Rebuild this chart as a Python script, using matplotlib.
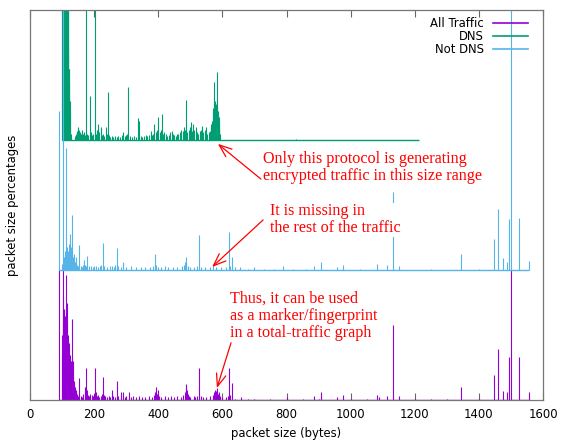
import matplotlib
matplotlib.use('Agg')
import matplotlib.pyplot as plt
from matplotlib.lines import Line2D

# packet size histograms (percentage, scaled to one band)
all_size = [90, 100, 101, 102, 103, 104, 105, 106, 107, 108, 109, 110, 111, 112, 113, 114, 115, 116, 117,
            118, 119, 120, 121, 122, 123, 124, 125, 126, 127, 128, 129, 130, 131, 132, 133, 134, 135, 136,
            137, 138, 139, 140, 142, 144, 146, 148, 150, 154, 158, 162, 166, 170, 172, 174, 176, 178, 180,
            184, 188, 192, 196, 200, 203, 205, 208, 212, 216, 220, 224, 227, 230, 235, 240, 245, 250, 256,
            260, 265, 271, 275, 283, 290, 295, 300, 309, 315, 320, 330, 340, 350, 360, 370, 380, 386, 390,
            393, 396, 398, 402, 410, 420, 430, 440, 450, 460, 470, 478, 482, 485, 487, 490, 493, 496, 500,
            510, 515, 520, 528, 532, 540, 550, 560, 570, 574, 577, 580, 583, 585, 588, 592, 600, 610, 618,
            621, 624, 629, 640, 657, 680, 700, 750, 800, 850, 887, 900, 907, 957, 975, 1000, 1050, 1083,
            1090, 1112, 1131, 1152, 1200, 1250, 1300, 1345, 1400, 1448, 1459, 1476, 1489, 1494, 1500, 1525,
            1557]
all_pct = [1.0, 0.35, 0.5, 0.8, 0.6, 1.0, 0.7, 0.45, 0.55, 0.4, 0.65, 0.5, 0.7, 0.96, 0.5, 0.4, 0.6, 0.75,
           0.35, 0.5, 0.45, 0.3, 0.35, 0.44, 0.25, 0.3, 0.35, 0.2, 0.28, 0.3, 0.25, 0.62, 0.3, 0.2, 0.3, 0.15,
           0.2, 0.12, 0.1, 0.15, 0.08, 0.1, 0.06, 0.08, 0.05, 0.04, 0.03, 0.17, 0.03, 0.02, 0.05, 0.06, 0.1,
           0.25, 0.05, 0.08, 0.04, 0.03, 0.05, 0.04, 0.03, 0.05, 0.25, 0.06, 0.03, 0.04, 0.02, 0.03, 0.05,
           0.18, 0.04, 0.03, 0.02, 0.03, 0.02, 0.08, 0.03, 0.02, 0.15, 0.03, 0.06, 0.06, 0.02, 0.03, 0.06,
           0.02, 0.03, 0.02, 0.03, 0.02, 0.02, 0.03, 0.02, 0.04, 0.06, 0.1, 0.05, 0.08, 0.03, 0.02, 0.03,
           0.02, 0.03, 0.02, 0.03, 0.02, 0.04, 0.06, 0.09, 0.12, 0.08, 0.05, 0.03, 0.02, 0.03, 0.02, 0.03,
           0.25, 0.03, 0.02, 0.02, 0.03, 0.04, 0.06, 0.08, 0.07, 0.09, 0.05, 0.06, 0.03, 0.02, 0.02, 0.03,
           0.25, 0.04, 0.13, 0.01, 0.02, 0.01, 0.01, 0.01, 0.02, 0.01, 0.03, 0.01, 0.06, 0.02, 0.04, 0.01,
           0.01, 0.04, 0.02, 0.03, 0.58, 0.03, 0.01, 0.01, 0.01, 0.1, 0.01, 0.19, 0.39, 0.07, 0.06, 0.33,
           1.0, 0.33, 0.06]
all_span = (90, 1557)

dns_size = [100, 101, 102, 103, 104, 105, 106, 107, 108, 109, 110, 111, 112, 113, 114, 115, 116, 117, 118,
            119, 120, 121, 122, 123, 124, 125, 126, 127, 128, 140, 143, 146, 148, 150, 152, 155, 158, 161,
            164, 167, 170, 174, 178, 182, 186, 190, 194, 198, 203, 207, 210, 213, 216, 220, 224, 228, 232,
            236, 239, 242, 246, 250, 255, 260, 265, 270, 275, 280, 286, 291, 296, 300, 304, 307, 312, 318,
            325, 330, 336, 340, 345, 350, 356, 362, 366, 370, 376, 380, 384, 388, 392, 396, 400, 404, 408,
            411, 415, 419, 423, 428, 433, 438, 442, 446, 450, 455, 460, 463, 468, 472, 476, 480, 484, 487,
            491, 495, 498, 501, 505, 509, 513, 517, 521, 525, 529, 533, 536, 540, 545, 549, 553, 557, 561,
            564, 566, 568, 570, 572, 574, 575, 576, 577, 578, 579, 580, 581, 582, 583, 584, 585, 586, 587,
            588, 589, 590, 591, 592, 829]
dns_pct = [1.2, 1.5, 1.3, 1.5, 1.1, 1.5, 1.4, 1.2, 1.5, 1.3, 1.5, 1.2, 1.5, 1.1, 1.4, 1.3, 1.2, 1.5, 1.1,
           1.05, 0.7, 0.55, 0.45, 0.55, 0.3, 0.21, 0.1, 0.05, 0.02, 0.03, 0.05, 0.07, 0.06, 0.1, 0.08, 0.06,
           0.05, 0.08, 0.05, 0.06, 0.04, 1.2, 0.05, 0.04, 0.34, 0.06, 0.04, 0.05, 1.2, 0.05, 0.08, 0.12, 0.06,
           0.1, 0.04, 0.05, 0.03, 0.1, 0.05, 0.37, 0.04, 0.02, 0.03, 0.02, 0.03, 0.02, 0.03, 0.02, 0.04,
           0.06, 0.03, 0.04, 0.05, 0.41, 0.03, 0.02, 0.03, 0.02, 0.17, 0.15, 0.03, 0.02, 0.03, 0.04, 0.03,
           0.04, 0.07, 0.04, 0.05, 0.12, 0.06, 0.08, 0.18, 0.06, 0.08, 0.2, 0.05, 0.06, 0.05, 0.03, 0.04,
           0.06, 0.07, 0.05, 0.04, 0.03, 0.05, 0.05, 0.06, 0.08, 0.07, 0.1, 0.08, 0.31, 0.06, 0.08, 0.1,
           0.14, 0.07, 0.12, 0.08, 0.1, 0.06, 0.05, 0.07, 0.08, 0.11, 0.06, 0.08, 0.1, 0.05, 0.06, 0.07,
           0.1, 0.12, 0.15, 0.22, 0.25, 0.2, 0.45, 0.28, 0.22, 0.3, 0.25, 0.2, 0.28, 0.52, 0.23, 0.25, 0.2,
           0.22, 0.15, 0.18, 0.12, 0.1, 0.08, 0.05, 0.01]
dns_span = (100, 1214)

notdns_size = [90, 100, 102, 104, 106, 108, 110, 112, 114, 116, 118, 120, 122, 124, 126, 128, 130, 132, 134,
               136, 138, 140, 142, 145, 148, 150, 154, 158, 162, 166, 169, 172, 176, 179, 184, 190, 196, 200,
               205, 212, 218, 222, 227, 232, 240, 248, 256, 262, 266, 271, 276, 285, 291, 300, 315, 330, 345,
               360, 375, 385, 391, 394, 400, 410, 420, 430, 445, 460, 475, 480, 483, 485, 488, 492, 500, 510,
               520, 527, 532, 545, 560, 570, 580, 595, 610, 621, 625, 631, 640, 655, 680, 700, 730, 760, 790,
               820, 860, 887, 907, 957, 975, 1030, 1083, 1112, 1131, 1152, 1250, 1345, 1400, 1448, 1459, 1476,
               1489, 1494, 1500, 1525, 1557]
notdns_pct = [1.22, 0.05, 0.08, 2.2, 0.1, 0.12, 0.15, 0.94, 0.12, 0.18, 0.1, 0.15, 0.2, 0.12, 0.28, 0.18,
              0.42, 0.15, 0.1, 0.12, 0.08, 0.06, 0.1, 0.05, 0.04, 0.03, 0.19, 0.03, 0.02, 0.04, 0.08, 0.04,
              0.03, 0.11, 0.03, 0.03, 0.02, 0.03, 0.03, 0.02, 0.03, 0.04, 0.21, 0.03, 0.02, 0.03, 0.03, 0.02,
              0.04, 0.17, 0.03, 0.02, 0.06, 0.02, 0.03, 0.02, 0.02, 0.02, 0.02, 0.03, 0.12, 0.04, 0.02, 0.02,
              0.03, 0.02, 0.02, 0.02, 0.03, 0.04, 0.06, 0.1, 0.05, 0.03, 0.02, 0.02, 0.03, 0.27, 0.02, 0.02,
              0.02, 0.03, 0.02, 0.02, 0.02, 0.29, 0.03, 0.1, 0.02, 0.02, 0.01, 0.02, 0.01, 0.01, 0.03, 0.01,
              0.01, 0.03, 0.06, 0.02, 0.04, 0.01, 0.05, 0.04, 0.6, 0.03, 0.01, 0.12, 0.01, 0.24, 0.47, 0.09,
              0.06, 0.39, 2.2, 0.40, 0.07]
notdns_span = (90, 1557)

series = [
    ('All Traffic', '#9400d3', 0, all_size, all_pct, all_span),
    ('DNS', '#009e73', 2, dns_size, dns_pct, dns_span),
    ('Not DNS', '#56b4e9', 1, notdns_size, notdns_pct, notdns_span),
]

fig = plt.figure(figsize=(5.63, 4.41), dpi=100)
ax = fig.add_axes([30 / 563, 41 / 441, 513 / 563, 390 / 441])

handles = []
for name, col, off, xs, ys, span in series:
    ax.vlines(xs, off, [off + v for v in ys], color=col, lw=0.8)
    ax.hlines(off, span[0], span[1], color=col, lw=1.0)
    handles.append(Line2D([], [], color=col, lw=1.2, label=name))

ax.set_xlim(0, 1600)
ax.set_ylim(0, 3)
ax.set_xticks(range(0, 1601, 200))
ax.set_yticks([])
ax.tick_params(axis='x', direction='in', top=True, length=5, color='#666666',
               labelsize=8.4, pad=6)
for s in ax.spines.values():
    s.set_color('#777777')
    s.set_linewidth(0.9)
ax.set_xlabel('packet size (bytes)', fontsize=8.4, labelpad=4)
ax.set_ylabel('packet size percentages', fontsize=8.4, labelpad=8)

ax.legend(handles=handles, loc='upper right', bbox_to_anchor=(0.985, 1.0), frameon=False,
          markerfirst=False, fontsize=8.4, handlelength=3.0, handletextpad=0.8,
          labelspacing=0.0, borderaxespad=0.2)

note = dict(color='red', fontsize=11.6, family='Liberation Serif', ha='left', va='center',
            linespacing=1.08, zorder=5,
            bbox=dict(facecolor='white', edgecolor='none', pad=0.5))
arrow = dict(arrowstyle='->,head_length=0.9,head_width=0.35', color='red', lw=0.9,
             shrinkA=0, shrinkB=0)

ax.text(726, 1.792, 'Only this protocol is generating\nencrypted traffic in this size range', **note)
ax.annotate('', xy=(586, 1.97), xytext=(720, 1.70), arrowprops=arrow, zorder=6)

ax.text(748, 1.385, 'It is missing in\nthe rest of the traffic', **note)
ax.annotate('', xy=(568, 1.023), xytext=(727, 1.385), arrowprops=arrow, zorder=6)

ax.text(624, 0.646, 'Thus, it can be used\nas a marker/fingerprint\nin a total-traffic graph', **note)
ax.annotate('', xy=(583, 0.092), xytext=(627, 0.44), arrowprops=arrow, zorder=6)

fig.savefig('out.png', dpi=100)
